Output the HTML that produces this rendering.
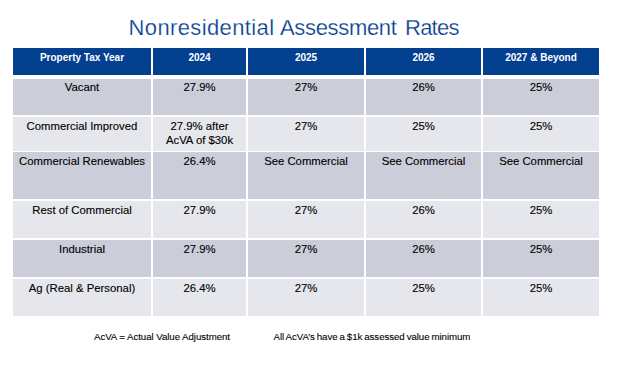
<!DOCTYPE html>
<html><head><meta charset="utf-8">
<style>
html,body{margin:0;padding:0;background:#fff;width:624px;height:365px;overflow:hidden;position:relative}
body{font-family:"Liberation Sans",sans-serif}
.b{position:absolute}
.h{background:#03408f}
.d{background:#cbcdd9}
.l{background:#e6e7ec}
.t{position:absolute;white-space:nowrap;text-align:center;color:#000;font-size:11.33px;line-height:13px;-webkit-text-stroke:0.12px #000}
.ht{position:absolute;white-space:nowrap;text-align:center;color:#fff;font-size:10px;font-weight:bold;line-height:12px}
.title{position:absolute;left:0;width:624px;top:15px;text-align:center;font-size:22px;line-height:26px;color:#023a8c;white-space:nowrap;-webkit-text-stroke:0.25px #fff}
.f{position:absolute;white-space:nowrap;font-size:9.7px;line-height:11px;color:#000;letter-spacing:-0.06px;-webkit-text-stroke:0.1px #000}
</style></head><body>
<div class="title" style="left:128.5px;width:auto;text-align:left;letter-spacing:0.38px">Nonresidential</div>
<div class="title" style="left:280px;width:auto;text-align:left;letter-spacing:-0.33px">Assessment</div>
<div class="title" style="left:405px;width:auto;text-align:left;letter-spacing:-0.75px">Rates</div>

<!-- header row -->
<div class="b h" style="left:13px;top:48px;width:138px;height:27px"></div>
<div class="b h" style="left:153px;top:48px;width:93px;height:27px"></div>
<div class="b h" style="left:248px;top:48px;width:116px;height:27px"></div>
<div class="b h" style="left:366px;top:48px;width:115px;height:27px"></div>
<div class="b h" style="left:483px;top:48px;width:116px;height:27px"></div>

<!-- row 1 -->
<div class="b d" style="left:13px;top:79px;width:138px;height:36px"></div>
<div class="b d" style="left:153px;top:79px;width:93px;height:36px"></div>
<div class="b d" style="left:248px;top:79px;width:116px;height:36px"></div>
<div class="b d" style="left:366px;top:79px;width:115px;height:36px"></div>
<div class="b d" style="left:483px;top:79px;width:116px;height:36px"></div>
<!-- row 2 -->
<div class="b l" style="left:13px;top:117px;width:138px;height:34px"></div>
<div class="b l" style="left:153px;top:117px;width:93px;height:34px"></div>
<div class="b l" style="left:248px;top:117px;width:116px;height:34px"></div>
<div class="b l" style="left:366px;top:117px;width:115px;height:34px"></div>
<div class="b l" style="left:483px;top:117px;width:116px;height:34px"></div>
<!-- row 3 -->
<div class="b d" style="left:13px;top:152px;width:138px;height:47px"></div>
<div class="b d" style="left:153px;top:152px;width:93px;height:47px"></div>
<div class="b d" style="left:248px;top:152px;width:116px;height:47px"></div>
<div class="b d" style="left:366px;top:152px;width:115px;height:47px"></div>
<div class="b d" style="left:483px;top:152px;width:116px;height:47px"></div>
<!-- row 4 -->
<div class="b l" style="left:13px;top:201px;width:138px;height:37px"></div>
<div class="b l" style="left:153px;top:201px;width:93px;height:37px"></div>
<div class="b l" style="left:248px;top:201px;width:116px;height:37px"></div>
<div class="b l" style="left:366px;top:201px;width:115px;height:37px"></div>
<div class="b l" style="left:483px;top:201px;width:116px;height:37px"></div>
<!-- row 5 -->
<div class="b d" style="left:13px;top:240px;width:138px;height:37px"></div>
<div class="b d" style="left:153px;top:240px;width:93px;height:37px"></div>
<div class="b d" style="left:248px;top:240px;width:116px;height:37px"></div>
<div class="b d" style="left:366px;top:240px;width:115px;height:37px"></div>
<div class="b d" style="left:483px;top:240px;width:116px;height:37px"></div>
<!-- row 6 -->
<div class="b l" style="left:13px;top:279px;width:138px;height:37px"></div>
<div class="b l" style="left:153px;top:279px;width:93px;height:37px"></div>
<div class="b l" style="left:248px;top:279px;width:116px;height:37px"></div>
<div class="b l" style="left:366px;top:279px;width:115px;height:37px"></div>
<div class="b l" style="left:483px;top:279px;width:116px;height:37px"></div>

<!-- header text -->
<div class="ht" style="left:13px;width:138px;top:52px">Property Tax Year</div>
<div class="ht" style="left:153px;width:93px;top:52px">2024</div>
<div class="ht" style="left:248px;width:116px;top:52px">2025</div>
<div class="ht" style="left:366px;width:115px;top:52px">2026</div>
<div class="ht" style="left:483px;width:116px;top:52px">2027 &amp; Beyond</div>

<!-- r1 text -->
<div class="t" style="left:13px;width:138px;top:81px">Vacant</div>
<div class="t" style="left:153px;width:93px;top:81px">27.9%</div>
<div class="t" style="left:248px;width:116px;top:81px">27%</div>
<div class="t" style="left:366px;width:115px;top:81px">26%</div>
<div class="t" style="left:483px;width:116px;top:81px">25%</div>
<!-- r2 text -->
<div class="t" style="left:13px;width:138px;top:120px">Commercial Improved</div>
<div class="t" style="left:153px;width:93px;top:120px;line-height:13.5px">27.9% after<br>AcVA of $30k</div>
<div class="t" style="left:248px;width:116px;top:120px">27%</div>
<div class="t" style="left:366px;width:115px;top:120px">25%</div>
<div class="t" style="left:483px;width:116px;top:120px">25%</div>
<!-- r3 text -->
<div class="t" style="left:13px;width:138px;top:155px">Commercial Renewables</div>
<div class="t" style="left:153px;width:93px;top:155px">26.4%</div>
<div class="t" style="left:248px;width:116px;top:155px">See Commercial</div>
<div class="t" style="left:366px;width:115px;top:155px">See Commercial</div>
<div class="t" style="left:483px;width:116px;top:155px">See Commercial</div>
<!-- r4 text -->
<div class="t" style="left:13px;width:138px;top:204px">Rest of Commercial</div>
<div class="t" style="left:153px;width:93px;top:204px">27.9%</div>
<div class="t" style="left:248px;width:116px;top:204px">27%</div>
<div class="t" style="left:366px;width:115px;top:204px">26%</div>
<div class="t" style="left:483px;width:116px;top:204px">25%</div>
<!-- r5 text -->
<div class="t" style="left:13px;width:138px;top:243px">Industrial</div>
<div class="t" style="left:153px;width:93px;top:243px">27.9%</div>
<div class="t" style="left:248px;width:116px;top:243px">27%</div>
<div class="t" style="left:366px;width:115px;top:243px">26%</div>
<div class="t" style="left:483px;width:116px;top:243px">25%</div>
<!-- r6 text -->
<div class="t" style="left:13px;width:138px;top:282px">Ag (Real &amp; Personal)</div>
<div class="t" style="left:153px;width:93px;top:282px">26.4%</div>
<div class="t" style="left:248px;width:116px;top:282px">27%</div>
<div class="t" style="left:366px;width:115px;top:282px">25%</div>
<div class="t" style="left:483px;width:116px;top:282px">25%</div>

<!-- footer -->
<div class="f" style="left:94px;top:331px">AcVA = Actual Value Adjustment</div>
<div class="f" style="left:273.5px;top:331px;word-spacing:-0.65px">All AcVA’s have a $1k assessed value minimum</div>
</body></html>
